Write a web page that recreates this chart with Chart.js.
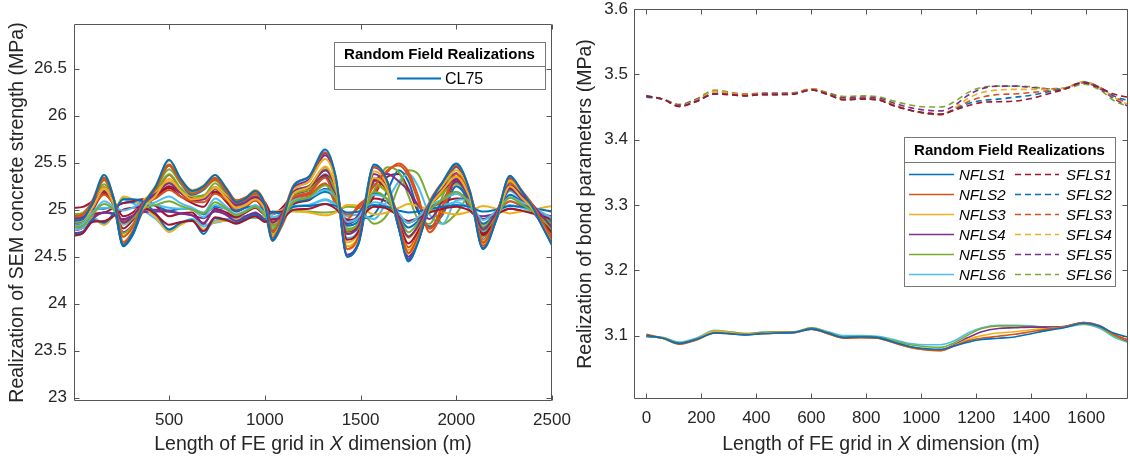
<!DOCTYPE html>
<html>
<head>
<meta charset="utf-8">
<script src="https://cdn.jsdelivr.net/npm/chart.js@4.4.0/dist/chart.umd.min.js"></script>
<style>
  html, body { margin: 0; padding: 0; background: #fff; }
  #wrap { position: relative; width: 1130px; height: 460px; overflow: hidden; }
  canvas { position: absolute; top: 0; }
  #leftChart { left: 0; }
  #rightChart { left: 565px; }
</style>
</head>
<body>
<div id="wrap">
  <canvas id="leftChart" width="580" height="460"></canvas>
  <canvas id="rightChart" width="565" height="460"></canvas>
</div>
<script>
// ---- left panel: SEM concrete strength realizations (MPa) ----
const xLeft = [0, 50, 100, 160, 210, 260, 310, 360, 430, 500, 560, 620, 680, 740, 800, 850, 900, 950, 1000, 1040, 1090,
  1150, 1230, 1315, 1370, 1430, 1490, 1570, 1640, 1700, 1750, 1800, 1860, 1930, 2000, 2070, 2140, 2210, 2280, 2340, 2400, 2450, 2500];

const run01 = [24.88, 24.90, 25.08, 25.37, 25.12, 24.62, 24.75, 25.02, 25.25, 25.53, 25.33, 25.20, 25.25, 25.37, 25.22, 25.08, 25.12, 25.20, 25.05, 24.68, 24.88,
  25.25, 25.35, 25.64, 25.35, 24.50, 24.65, 25.48, 25.30, 24.80, 24.45, 24.65, 25.05, 25.30, 25.49, 25.20, 24.58, 24.90, 25.36, 25.20, 25.02, 24.82, 24.62];
const run02 = [24.93, 24.95, 25.10, 25.34, 25.13, 24.71, 24.82, 25.05, 25.24, 25.48, 25.31, 25.20, 25.24, 25.34, 25.22, 25.10, 25.13, 25.20, 25.07, 24.76, 24.93,
  25.26, 25.35, 25.61, 25.35, 24.58, 24.72, 25.46, 25.30, 24.85, 24.54, 24.72, 25.08, 25.30, 25.47, 25.21, 24.65, 24.94, 25.35, 25.21, 25.05, 24.87, 24.69];
const run03 = [24.87, 24.89, 25.02, 25.22, 25.06, 24.72, 24.82, 25.00, 25.15, 25.33, 25.20, 25.11, 25.13, 25.23, 25.12, 25.02, 25.05, 25.11, 25.00, 24.75, 24.89,
  25.17, 25.24, 25.46, 25.24, 24.61, 24.72, 25.34, 25.21, 24.83, 24.57, 24.72, 25.02, 25.21, 25.35, 25.13, 24.67, 24.91, 25.25, 25.13, 25.00, 24.85, 24.70];
const run04 = [24.90, 24.92, 25.05, 25.21, 25.09, 24.86, 24.93, 25.07, 25.17, 25.28, 25.18, 25.12, 25.11, 25.22, 25.13, 25.05, 25.08, 25.14, 25.04, 24.86, 24.96,
  25.19, 25.25, 25.42, 25.25, 24.74, 24.83, 25.33, 25.22, 24.92, 24.71, 24.83, 25.07, 25.22, 25.33, 25.16, 24.79, 24.98, 25.26, 25.16, 25.05, 24.93, 24.81];
const run05 = [24.81, 24.83, 24.95, 25.06, 25.00, 24.86, 24.91, 25.01, 25.05, 25.09, 25.04, 25.00, 24.96, 25.08, 25.01, 24.94, 24.98, 25.03, 24.94, 24.83, 24.90,
  25.08, 25.13, 25.26, 25.13, 24.75, 24.81, 25.19, 25.11, 24.88, 24.72, 24.81, 24.99, 25.11, 25.19, 25.06, 24.78, 24.93, 25.13, 25.06, 24.98, 24.89, 24.80];
const run06 = [24.82, 24.85, 24.97, 25.02, 25.02, 24.99, 25.02, 25.07, 25.05, 25.02, 25.01, 25.00, 24.92, 25.05, 25.00, 24.95, 24.99, 25.03, 24.96, 24.92, 24.96,
  25.10, 25.13, 25.21, 25.13, 24.87, 24.92, 25.16, 25.11, 24.96, 24.86, 24.92, 25.04, 25.11, 25.17, 25.08, 24.89, 24.99, 25.13, 25.08, 25.03, 24.97, 24.91];
const run07 = [24.72, 24.75, 24.87, 24.88, 24.93, 25.00, 25.02, 25.03, 24.95, 24.84, 24.87, 24.88, 24.77, 24.92, 24.89, 24.85, 24.89, 24.93, 24.87, 24.90, 24.91,
  25.00, 25.01, 25.06, 25.01, 24.89, 24.91, 25.03, 25.01, 24.93, 24.88, 24.91, 24.97, 25.01, 25.03, 24.99, 24.90, 24.95, 25.01, 24.99, 24.96, 24.93, 24.90];
const run08 = [24.73, 24.76, 24.89, 24.86, 24.96, 25.11, 25.11, 25.09, 24.96, 24.79, 24.86, 24.89, 24.74, 24.91, 24.89, 24.86, 24.91, 24.95, 24.89, 24.98, 24.96,
  25.03, 25.04, 25.06, 25.04, 24.97, 24.98, 25.05, 25.03, 24.99, 24.97, 24.98, 25.01, 25.03, 25.05, 25.03, 24.98, 25.00, 25.04, 25.03, 25.01, 25.00, 24.98];
const run09 = [24.88, 24.90, 25.06, 25.32, 25.10, 24.65, 24.77, 25.01, 25.22, 25.47, 25.29, 25.17, 25.22, 25.32, 25.19, 25.06, 25.10, 25.17, 25.04, 24.70, 24.88,
  25.13, 25.18, 25.34, 25.10, 24.95, 25.02, 25.25, 25.42, 25.47, 25.36, 25.10, 24.80, 25.05, 25.38, 25.15, 24.65, 24.91, 25.28, 25.15, 25.01, 24.85, 24.69];
const run10 = [24.89, 24.92, 25.06, 25.23, 25.11, 24.85, 24.93, 25.09, 25.19, 25.30, 25.20, 25.13, 25.12, 25.24, 25.15, 25.05, 25.09, 25.15, 25.04, 24.85, 24.96,
  25.21, 25.30, 25.54, 25.30, 24.58, 24.70, 25.41, 25.26, 24.83, 24.53, 24.70, 25.04, 25.26, 25.42, 25.17, 24.64, 24.92, 25.31, 25.17, 25.02, 24.85, 24.68];
const run11 = [24.75, 24.77, 24.90, 24.97, 24.96, 24.90, 24.94, 25.00, 25.00, 24.98, 24.96, 24.94, 24.86, 25.00, 24.94, 24.88, 24.93, 24.97, 24.89, 24.84, 24.88,
  25.12, 25.18, 25.35, 25.15, 24.85, 24.95, 25.30, 25.38, 25.30, 25.20, 25.05, 24.90, 25.10, 25.30, 25.11, 24.68, 24.90, 25.22, 25.11, 24.98, 24.84, 24.70];
const run12 = [24.94, 24.96, 25.09, 25.31, 25.12, 24.75, 24.84, 25.05, 25.22, 25.43, 25.28, 25.18, 25.22, 25.31, 25.20, 25.09, 25.12, 25.18, 25.07, 24.79, 24.94,
  25.16, 25.21, 25.35, 25.21, 24.78, 24.86, 25.27, 25.18, 24.93, 24.76, 24.86, 25.06, 25.18, 25.28, 25.13, 24.82, 24.98, 25.21, 25.13, 25.04, 24.94, 24.84];
const run13 = [24.78, 24.81, 24.96, 25.09, 25.02, 24.84, 24.91, 25.03, 25.08, 25.14, 25.07, 25.02, 24.97, 25.12, 25.03, 24.95, 24.99, 25.05, 24.95, 24.81, 24.90,
  25.03, 25.05, 25.11, 25.05, 24.88, 24.91, 25.08, 25.04, 24.94, 24.87, 24.91, 24.99, 25.04, 25.08, 25.02, 24.90, 24.96, 25.05, 25.02, 24.98, 24.94, 24.90];
const run14 = [24.78, 24.81, 24.95, 24.97, 25.02, 25.07, 25.09, 25.11, 25.04, 24.93, 24.96, 24.97, 24.85, 25.01, 24.97, 24.92, 24.97, 25.02, 24.95, 24.97, 24.98,
  25.16, 25.23, 25.42, 25.23, 24.68, 24.77, 25.31, 25.20, 24.87, 24.64, 24.77, 25.03, 25.20, 25.32, 25.13, 24.73, 24.94, 25.23, 25.13, 25.01, 24.88, 24.75];
const run15 = [24.86, 24.88, 25.05, 25.32, 25.08, 24.61, 24.73, 24.99, 25.21, 25.47, 25.28, 25.16, 25.21, 25.32, 25.18, 25.05, 25.08, 25.16, 25.02, 24.67, 24.86,
  25.09, 25.12, 25.22, 25.12, 24.83, 24.88, 25.17, 25.11, 24.93, 24.81, 24.88, 25.02, 25.11, 25.17, 25.07, 24.85, 24.97, 25.13, 25.07, 25.01, 24.94, 24.87];
const run16 = [24.91, 24.93, 25.03, 25.16, 25.06, 24.87, 24.93, 25.05, 25.12, 25.21, 25.14, 25.09, 25.08, 25.17, 25.10, 25.03, 25.05, 25.10, 25.02, 24.87, 24.96,
  25.12, 25.16, 25.28, 25.05, 24.90, 25.05, 25.18, 25.40, 25.49, 25.40, 25.15, 24.76, 24.98, 25.35, 25.18, 24.62, 24.91, 25.32, 25.18, 25.02, 24.84, 24.66];
const run17 = [24.86, 24.87, 24.91, 24.84, 24.95, 25.14, 25.11, 25.04, 24.92, 24.76, 24.84, 24.89, 24.79, 24.87, 24.88, 24.89, 24.92, 24.92, 24.92, 24.97, 24.99,
  24.98, 24.97, 24.94, 24.97, 25.05, 25.04, 24.95, 24.97, 25.02, 25.06, 25.04, 25.00, 24.97, 24.95, 24.98, 25.04, 25.01, 24.96, 24.98, 25.00, 25.02, 25.04];
const run18 = [24.87, 24.89, 25.02, 25.21, 25.06, 24.76, 24.84, 25.02, 25.15, 25.30, 25.18, 25.10, 25.11, 25.22, 25.12, 25.02, 25.05, 25.11, 25.00, 24.78, 24.90,
  25.23, 25.32, 25.60, 25.32, 24.52, 24.66, 25.45, 25.28, 24.80, 24.47, 24.66, 25.04, 25.28, 25.46, 25.18, 24.59, 24.90, 25.33, 25.18, 25.01, 24.82, 24.63];
const run19 = [24.85, 24.87, 25.04, 25.27, 25.09, 24.72, 24.82, 25.03, 25.19, 25.38, 25.23, 25.14, 25.15, 25.28, 25.15, 25.03, 25.08, 25.15, 25.02, 24.74, 24.89,
  25.18, 25.25, 25.45, 25.20, 24.80, 24.85, 25.20, 25.45, 25.40, 25.15, 24.90, 24.85, 25.15, 25.45, 25.18, 24.72, 24.96, 25.30, 25.18, 25.05, 24.90, 24.75];
const run20 = [24.88, 24.90, 24.92, 24.85, 24.95, 25.13, 25.10, 25.04, 24.93, 24.78, 24.86, 24.90, 24.82, 24.88, 24.90, 24.91, 24.93, 24.93, 24.93, 24.95, 25.00,
  25.04, 25.05, 25.10, 25.05, 24.93, 24.95, 24.90, 25.10, 25.30, 25.38, 25.25, 24.95, 24.85, 25.10, 25.11, 24.77, 24.95, 25.20, 25.11, 25.01, 24.90, 24.79];
const run21 = [25.02, 25.03, 25.09, 25.19, 25.10, 24.93, 24.97, 25.07, 25.15, 25.25, 25.18, 25.13, 25.15, 25.19, 25.14, 25.09, 25.10, 25.13, 25.08, 24.95, 25.02,
  25.16, 25.21, 25.37, 25.21, 24.75, 24.83, 25.12, 25.08, 24.95, 24.86, 24.91, 25.01, 25.08, 25.12, 25.12, 24.75, 24.94, 25.22, 25.12, 25.01, 24.89, 24.77];
const run22 = [24.93, 24.95, 25.01, 25.01, 25.04, 25.07, 25.08, 25.08, 25.04, 24.99, 25.01, 25.01, 24.95, 25.03, 25.01, 24.99, 25.02, 25.04, 25.00, 24.96, 24.99,
  25.08, 25.11, 25.19, 25.11, 24.85, 24.90, 24.95, 25.20, 25.42, 25.30, 25.00, 24.82, 24.95, 25.25, 25.09, 24.81, 24.96, 25.16, 25.09, 25.01, 24.92, 24.83];
const run23 = [24.81, 24.83, 25.00, 25.24, 25.04, 24.63, 24.74, 24.97, 25.15, 25.37, 25.21, 25.10, 25.13, 25.24, 25.12, 24.99, 25.03, 25.10, 24.97, 24.67, 24.83,
  25.09, 25.14, 25.27, 25.14, 24.76, 24.82, 25.32, 25.19, 24.84, 24.60, 24.74, 25.02, 25.19, 25.32, 25.04, 24.85, 24.95, 25.09, 25.04, 24.99, 24.93, 24.87];
const run24 = [24.91, 24.93, 25.10, 25.37, 25.13, 24.66, 24.78, 25.04, 25.26, 25.52, 25.33, 25.21, 25.26, 25.37, 25.23, 25.10, 25.13, 25.21, 25.07, 24.72, 24.91,
  25.18, 25.25, 25.45, 25.25, 24.65, 24.76, 25.26, 25.17, 24.89, 24.70, 24.81, 25.03, 25.17, 25.27, 25.19, 24.60, 24.91, 25.34, 25.19, 25.02, 24.83, 24.64];
const run25 = [24.83, 24.85, 24.92, 24.97, 24.95, 24.89, 24.92, 24.97, 24.98, 24.98, 24.96, 24.94, 24.91, 24.98, 24.95, 24.91, 24.93, 24.96, 24.91, 24.87, 24.90,
  25.21, 25.30, 25.58, 25.30, 24.50, 24.64, 25.38, 25.23, 24.80, 24.50, 24.67, 25.01, 25.23, 25.39, 24.99, 24.93, 24.96, 25.01, 24.99, 24.97, 24.95, 24.93];
const run26 = [24.95, 24.97, 25.07, 25.21, 25.10, 24.86, 24.93, 25.06, 25.16, 25.28, 25.19, 25.13, 25.14, 25.22, 25.14, 25.07, 25.09, 25.13, 25.05, 24.88, 24.98,
  24.99, 24.98, 24.97, 24.98, 25.03, 25.02, 24.85, 24.95, 25.25, 25.42, 25.38, 25.10, 24.85, 24.96, 25.14, 24.71, 24.93, 25.25, 25.14, 25.01, 24.87, 24.73];
const run27 = [24.93, 24.93, 24.92, 24.84, 24.94, 25.11, 25.07, 25.00, 24.90, 24.78, 24.85, 24.89, 24.84, 24.86, 24.89, 24.92, 24.92, 24.91, 24.93, 24.96, 24.98,
  25.15, 25.21, 25.38, 25.21, 24.70, 24.79, 25.46, 25.29, 24.81, 24.48, 24.67, 25.05, 25.29, 25.47, 25.05, 24.90, 24.98, 25.09, 25.05, 25.01, 24.96, 24.91];
const run28 = [24.78, 24.81, 24.99, 25.17, 25.05, 24.80, 24.89, 25.05, 25.14, 25.23, 25.14, 25.07, 25.03, 25.19, 25.08, 24.98, 25.03, 25.10, 24.97, 24.78, 24.90,
  25.06, 25.10, 25.22, 25.10, 24.76, 24.82, 25.15, 25.35, 25.38, 25.22, 24.98, 24.80, 25.00, 25.30, 25.13, 24.73, 24.94, 25.23, 25.13, 25.01, 24.88, 24.75];

const leftRuns = [run01, run02, run03, run04, run05, run06, run07, run08, run09, run10, run11, run12, run13, run14,
  run15, run16, run17, run18, run19, run20, run21, run22, run23, run24, run25, run26, run27, run28];
const leftSeriesName = 'CL75';
const leftXTicks = [500, 1000, 1500, 2000, 2500];
const leftXTickLabels = ['500', '1000', '1500', '2000', '2500'];
const leftYTicks = [23, 23.5, 24, 24.5, 25, 25.5, 26, 26.5];
const leftYTickLabels = ['23', '23.5', '24', '24.5', '25', '25.5', '26', '26.5'];

// ---- right panel: bond parameter realizations (MPa) ----
const xRight = [0, 60, 120, 180, 250, 300, 360, 420, 480, 540, 600, 660, 720, 780, 840, 900, 960, 1020, 1070, 1120,
  1170, 1220, 1280, 1340, 1400, 1460, 1520, 1590, 1650, 1700, 1750];

const nfls1 = [3.100, 3.096, 3.088, 3.094, 3.104, 3.103, 3.101, 3.103, 3.104, 3.105, 3.110, 3.104, 3.097, 3.098, 3.097, 3.090, 3.083, 3.080, 3.079, 3.084,
  3.090, 3.094, 3.096, 3.098, 3.103, 3.108, 3.112, 3.119, 3.114, 3.104, 3.098];
const nfls2 = [3.102, 3.096, 3.087, 3.093, 3.104, 3.103, 3.101, 3.103, 3.104, 3.105, 3.110, 3.103, 3.096, 3.097, 3.096, 3.089, 3.082, 3.078, 3.077, 3.084,
  3.092, 3.096, 3.099, 3.102, 3.106, 3.110, 3.113, 3.120, 3.114, 3.102, 3.094];
const nfls3 = [3.100, 3.096, 3.087, 3.094, 3.107, 3.105, 3.102, 3.104, 3.105, 3.105, 3.110, 3.103, 3.096, 3.097, 3.096, 3.089, 3.082, 3.078, 3.077, 3.085,
  3.094, 3.100, 3.104, 3.106, 3.109, 3.111, 3.113, 3.119, 3.114, 3.102, 3.093];
const nfls4 = [3.099, 3.096, 3.088, 3.094, 3.105, 3.104, 3.102, 3.104, 3.105, 3.105, 3.111, 3.104, 3.097, 3.098, 3.097, 3.090, 3.083, 3.079, 3.078, 3.086,
  3.097, 3.106, 3.111, 3.112, 3.113, 3.113, 3.114, 3.120, 3.115, 3.102, 3.092];
const nfls5 = [3.099, 3.097, 3.089, 3.095, 3.107, 3.106, 3.103, 3.105, 3.106, 3.106, 3.112, 3.105, 3.098, 3.099, 3.098, 3.092, 3.086, 3.083, 3.082, 3.089,
  3.101, 3.111, 3.115, 3.115, 3.114, 3.113, 3.114, 3.118, 3.113, 3.100, 3.091];
const nfls6 = [3.098, 3.097, 3.090, 3.096, 3.108, 3.106, 3.103, 3.105, 3.106, 3.106, 3.112, 3.106, 3.100, 3.100, 3.099, 3.094, 3.088, 3.086, 3.086, 3.092,
  3.104, 3.112, 3.116, 3.116, 3.115, 3.113, 3.113, 3.117, 3.111, 3.098, 3.090];

const sfls1 = [3.467, 3.462, 3.451, 3.458, 3.470, 3.469, 3.467, 3.469, 3.469, 3.470, 3.476, 3.469, 3.461, 3.462, 3.461, 3.452, 3.445, 3.441, 3.439, 3.445,
  3.452, 3.457, 3.458, 3.459, 3.463, 3.470, 3.477, 3.487, 3.479, 3.470, 3.465];
const sfls2 = [3.465, 3.462, 3.451, 3.458, 3.470, 3.469, 3.467, 3.469, 3.469, 3.470, 3.476, 3.469, 3.461, 3.462, 3.461, 3.452, 3.445, 3.440, 3.439, 3.446,
  3.455, 3.460, 3.462, 3.465, 3.468, 3.473, 3.478, 3.488, 3.480, 3.467, 3.460];
const sfls3 = [3.466, 3.462, 3.451, 3.459, 3.471, 3.470, 3.468, 3.470, 3.470, 3.471, 3.477, 3.470, 3.462, 3.463, 3.462, 3.453, 3.445, 3.440, 3.438, 3.446,
  3.458, 3.465, 3.469, 3.470, 3.472, 3.475, 3.478, 3.488, 3.480, 3.466, 3.456];
const sfls4 = [3.466, 3.462, 3.452, 3.460, 3.474, 3.472, 3.469, 3.470, 3.470, 3.471, 3.478, 3.470, 3.462, 3.463, 3.462, 3.453, 3.445, 3.440, 3.439, 3.448,
  3.463, 3.472, 3.476, 3.477, 3.477, 3.477, 3.479, 3.489, 3.480, 3.465, 3.454];
const sfls5 = [3.467, 3.462, 3.453, 3.461, 3.474, 3.472, 3.469, 3.471, 3.471, 3.471, 3.478, 3.471, 3.464, 3.465, 3.464, 3.456, 3.449, 3.445, 3.444, 3.452,
  3.468, 3.478, 3.482, 3.482, 3.480, 3.478, 3.479, 3.487, 3.478, 3.463, 3.452];
const sfls6 = [3.466, 3.462, 3.454, 3.462, 3.476, 3.473, 3.470, 3.471, 3.471, 3.472, 3.478, 3.472, 3.466, 3.467, 3.466, 3.459, 3.453, 3.450, 3.450, 3.458,
  3.472, 3.480, 3.482, 3.482, 3.481, 3.478, 3.478, 3.485, 3.476, 3.460, 3.451];

const nflsNames = ['NFLS1', 'NFLS2', 'NFLS3', 'NFLS4', 'NFLS5', 'NFLS6'];
const sflsNames = ['SFLS1', 'SFLS2', 'SFLS3', 'SFLS4', 'SFLS5', 'SFLS6'];
const nflsSeries = [nfls1, nfls2, nfls3, nfls4, nfls5, nfls6];
const sflsSeries = [sfls1, sfls2, sfls3, sfls4, sfls5, sfls6];
const rightXTicks = [0, 200, 400, 600, 800, 1000, 1200, 1400, 1600];
const rightXTickLabels = ['0', '200', '400', '600', '800', '1000', '1200', '1400', '1600'];
const rightYTicks = [3.1, 3.2, 3.3, 3.4, 3.5, 3.6];
const rightYTickLabels = ['3.1', '3.2', '3.3', '3.4', '3.5', '3.6'];

const legendTitle = 'Random Field Realizations';
const xTitleParts = [{ text: 'Length of FE grid in ' }, { text: 'X', italic: true }, { text: ' dimension (m)' }];

// MATLAB default colour order
const colorOrder = ['#0072BD', '#D95319', '#EDB120', '#7E2F8E', '#77AC30', '#4DBEEE', '#A2142F'];
const FONT = '"Liberation Sans", Arial, Helvetica, sans-serif';
const TEXT = '#262626';
Chart.defaults.font.family = FONT;
Chart.defaults.color = TEXT;

const toPoints = (xs, ys) => xs.map((x, i) => ({ x: x, y: ys[i] }));

// box round the plot area with inward ticks on all four sides
const frame = {
  id: 'frame',
  afterDatasetsDraw(chart) {
    const { ctx, chartArea: a, scales: { x, y } } = chart;
    const L = Math.round(a.left) + 0.5, R = Math.round(a.right) - 0.5;
    const T = Math.round(a.top) + 0.5, B = Math.round(a.bottom) - 0.5;
    ctx.save();
    ctx.strokeStyle = '#555';
    ctx.lineWidth = 1;
    ctx.beginPath();
    ctx.moveTo(L, T); ctx.lineTo(R, T); ctx.lineTo(R, B); ctx.lineTo(L, B); ctx.closePath();
    x.ticks.forEach(t => {
      const px = Math.round(x.getPixelForValue(t.value)) + 0.5;
      ctx.moveTo(px, B); ctx.lineTo(px, B - 5);
      ctx.moveTo(px, T); ctx.lineTo(px, T + 5);
    });
    y.ticks.forEach(t => {
      const py = Math.round(y.getPixelForValue(t.value)) + 0.5;
      ctx.moveTo(L, py); ctx.lineTo(L + 5, py);
      ctx.moveTo(R, py); ctx.lineTo(R - 5, py);
    });
    ctx.stroke();
    ctx.restore();
  }
};

// x axis title with the italic X
const xTitle = {
  id: 'xTitle',
  afterDraw(chart, args, o) {
    const { ctx, chartArea: a } = chart;
    ctx.save();
    ctx.fillStyle = TEXT;
    ctx.textBaseline = 'middle';
    ctx.textAlign = 'left';
    const fonts = xTitleParts.map(p => (p.italic ? 'italic ' : '') + o.size + 'px ' + FONT);
    const widths = xTitleParts.map((p, i) => { ctx.font = fonts[i]; return ctx.measureText(p.text).width; });
    let x = (a.left + a.right) / 2 - widths.reduce((s, w) => s + w, 0) / 2;
    xTitleParts.forEach((p, i) => { ctx.font = fonts[i]; ctx.fillText(p.text, x, o.y); x += widths[i]; });
    ctx.restore();
  }
};

// MATLAB-like legend box with a title row
const legendBox = {
  id: 'legendBox',
  afterDraw(chart, args, o) {
    const ctx = chart.ctx;
    const ds = chart.data.datasets;
    ctx.save();
    ctx.fillStyle = '#fff';
    ctx.fillRect(o.x, o.y, o.w, o.h);
    ctx.strokeStyle = '#777';
    ctx.lineWidth = 1;
    ctx.strokeRect(o.x + 0.5, o.y + 0.5, o.w, o.h);
    ctx.beginPath();
    ctx.moveTo(o.x, o.y + o.titleH + 0.5);
    ctx.lineTo(o.x + o.w, o.y + o.titleH + 0.5);
    ctx.stroke();
    ctx.fillStyle = '#000';
    ctx.font = 'bold 15px ' + FONT;
    ctx.textAlign = 'center';
    ctx.textBaseline = 'middle';
    ctx.fillText(legendTitle, o.x + o.w / 2, o.y + o.titleH / 2 + 1);
    ctx.textAlign = 'left';
    o.columns.forEach(col => {
      col.items.forEach((idx, r) => {
        const d = ds[idx];
        const yy = Math.round(o.rowTop + r * o.rowH) + 0.5;
        ctx.strokeStyle = d.borderColor;
        ctx.lineWidth = Math.min(d.borderWidth, 1.8);
        ctx.setLineDash(d.borderDash || []);
        ctx.beginPath();
        ctx.moveTo(col.lineFrom, yy);
        ctx.lineTo(col.lineTo, yy);
        ctx.stroke();
        ctx.setLineDash([]);
        ctx.fillStyle = '#000';
        ctx.font = o.itemFont;
        ctx.fillText(d.label, col.textX, yy + 1);
      });
    });
    ctx.restore();
  }
};

function fixedTicks(values) {
  return scale => { scale.ticks = values.map(v => ({ value: v })); };
}

// ---- left chart ----
const leftDatasets = leftRuns.map((ys, i) => ({
  label: leftSeriesName,
  data: toPoints(xLeft, ys),
  borderColor: colorOrder[i % colorOrder.length],
  borderWidth: 2,
  pointRadius: 0,
  cubicInterpolationMode: 'monotone',
  fill: false
}));

new Chart(document.getElementById('leftChart'), {
  type: 'line',
  data: { datasets: leftDatasets },
  plugins: [frame, xTitle, legendBox],
  options: {
    responsive: false,
    animation: false,
    events: [],
    layout: { padding: { top: 24, right: 28, left: 0, bottom: 0 } },
    plugins: {
      legend: { display: false },
      tooltip: { enabled: false },
      xTitle: { size: 19.5, y: 445 },
      legendBox: {
        x: 334, y: 42, w: 211, h: 47, titleH: 24, rowTop: 78, rowH: 20,
        itemFont: '16px ' + FONT,
        columns: [{ items: [0], lineFrom: 397, lineTo: 441, textX: 445 }]
      }
    },
    scales: {
      x: {
        type: 'linear', min: 3, max: 2500,
        afterBuildTicks: fixedTicks(leftXTicks),
        afterFit: s => { s.height = 59; s.paddingLeft = 0; s.paddingRight = 0; },
        grid: { display: false, drawTicks: false },
        border: { display: false },
        ticks: { autoSkip: false, maxRotation: 0, padding: 9, color: TEXT, font: { size: 17 },
          callback: (v, i) => leftXTickLabels[i] }
      },
      y: {
        type: 'linear', min: 22.965, max: 26.975,
        afterBuildTicks: fixedTicks(leftYTicks),
        afterFit: s => { s.width = 74; s.paddingTop = 0; s.paddingBottom = 0; },
        grid: { display: false, drawTicks: false },
        border: { display: false },
        title: { display: true, text: 'Realization of SEM concrete strength (MPa)', color: TEXT,
          font: { size: 19.5 }, padding: { top: 6, bottom: 0 } },
        ticks: { autoSkip: false, padding: 7, color: TEXT, font: { size: 17 },
          callback: (v, i) => leftYTickLabels[i] }
      }
    }
  }
});

// ---- right chart ----
const rightDatasets = [];
nflsSeries.forEach((ys, i) => rightDatasets.push({
  label: nflsNames[i],
  data: toPoints(xRight, ys),
  borderColor: colorOrder[i % 7],
  borderWidth: 1.6,
  pointRadius: 0,
  cubicInterpolationMode: 'monotone',
  fill: false
}));
sflsSeries.forEach((ys, i) => rightDatasets.push({
  label: sflsNames[i],
  data: toPoints(xRight, ys),
  borderColor: colorOrder[(i + 6) % 7],
  borderWidth: 1.6,
  borderDash: [6, 4],
  pointRadius: 0,
  cubicInterpolationMode: 'monotone',
  fill: false
}));

new Chart(document.getElementById('rightChart'), {
  type: 'line',
  data: { datasets: rightDatasets },
  plugins: [frame, xTitle, legendBox],
  options: {
    responsive: false,
    animation: false,
    events: [],
    layout: { padding: { top: 9, right: 2, left: 0, bottom: 0 } },
    plugins: {
      legend: { display: false },
      tooltip: { enabled: false },
      xTitle: { size: 19.5, y: 445 },
      legendBox: {
        x: 339, y: 137, w: 211, h: 149, titleH: 25, rowTop: 174, rowH: 20,
        itemFont: 'italic 15px ' + FONT,
        columns: [
          { items: [0, 1, 2, 3, 4, 5], lineFrom: 344, lineTo: 389, textX: 394 },
          { items: [6, 7, 8, 9, 10, 11], lineFrom: 450, lineTo: 494, textX: 501 }
        ]
      }
    },
    scales: {
      x: {
        type: 'linear', min: -45, max: 1752,
        afterBuildTicks: fixedTicks(rightXTicks),
        afterFit: s => { s.height = 61; s.paddingLeft = 0; s.paddingRight = 0; },
        grid: { display: false, drawTicks: false },
        border: { display: false },
        ticks: { autoSkip: false, maxRotation: 0, padding: 9, color: TEXT, font: { size: 17 },
          callback: (v, i) => rightXTickLabels[i] }
      },
      y: {
        type: 'linear', min: 3.003, max: 3.6,
        afterBuildTicks: fixedTicks(rightYTicks),
        afterFit: s => { s.width = 69; s.paddingTop = 0; s.paddingBottom = 0; },
        grid: { display: false, drawTicks: false },
        border: { display: false },
        title: { display: true, text: 'Realization of bond parameters (MPa)', color: TEXT,
          font: { size: 19.5 }, padding: { top: 9, bottom: 0 } },
        ticks: { autoSkip: false, padding: 6, color: TEXT, font: { size: 17 },
          callback: (v, i) => rightYTickLabels[i] }
      }
    }
  }
});
</script>
</body>
</html>
